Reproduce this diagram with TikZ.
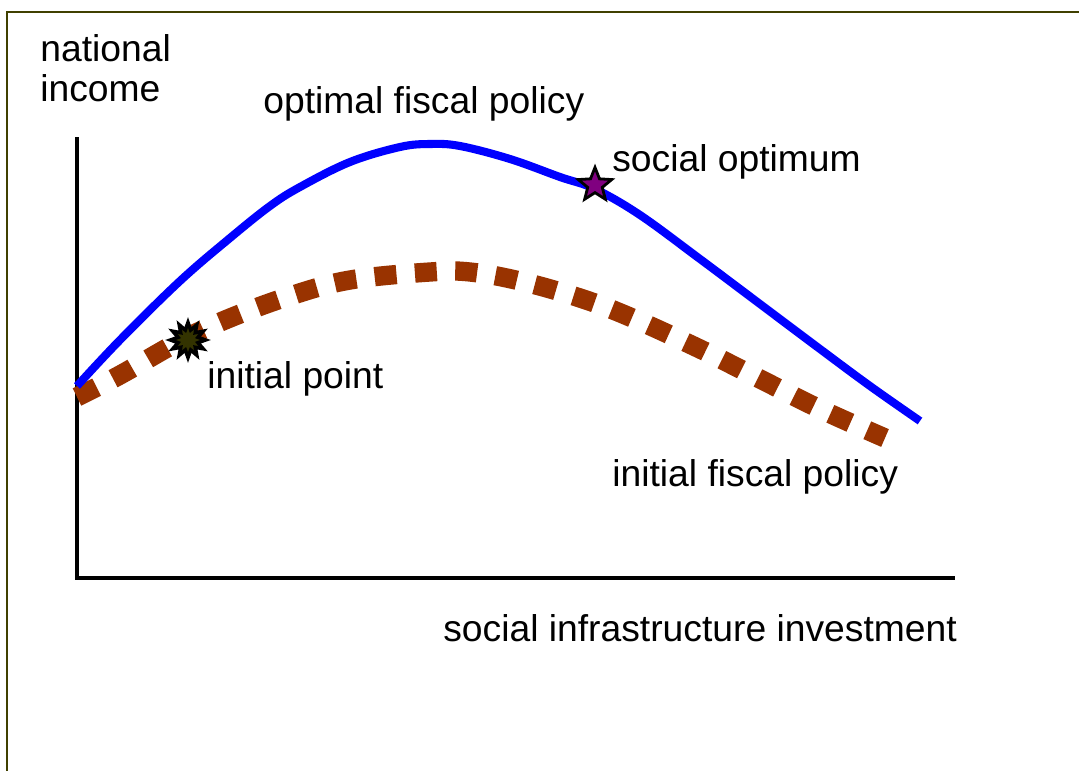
\documentclass[tikz,border=0pt]{standalone}
\usepackage{fontspec}
\setmainfont{Liberation Sans}
\usetikzlibrary{shapes.geometric}
\definecolor{framecol}{RGB}{64,64,0}
\definecolor{optblue}{RGB}{0,0,255}
\definecolor{initbrown}{RGB}{153,51,0}
\definecolor{optpurple}{RGB}{128,0,128}
\definecolor{initolive}{RGB}{51,51,0}

\begin{document}
\begin{tikzpicture}[x=0.02cm, y=-0.02cm,
  lbl/.style={anchor=base west, inner sep=0pt, font=\fontsize{21.2}{25}\selectfont},
  axis/.style={line width=2.3pt, black},
  optcurve/.style={line width=4.6pt, optblue},
  initcurve/.style={line width=11pt, initbrown, dash pattern=on 12.5pt off 10.5pt},
  optstar/.style={star, star points=5, star point ratio=2.3, minimum size=20pt, inner sep=0pt, draw=black, line width=1.6pt, fill=optpurple},
  initburst/.style={star, star points=12, star point ratio=1.7, minimum size=20pt, inner sep=0pt, draw=black, line width=2pt, fill=initolive}]
\useasboundingbox (0,0) rectangle (1079,771);
% frame
\draw[framecol, line width=1.7pt] (7,771) -- (7,12) -- (1079,12);

% axes
\coordinate (origin) at (77,578);
\coordinate (ytop) at (77,137);
\coordinate (xend) at (955,578);
\draw[axis] (ytop) -- (origin) -- (xend);
\node[lbl] (ylabel) at (40,61) {national};
\node[lbl] (ylabel2) at (40,101) {income};
\node[lbl] (xlabel) at (443,641) {social infrastructure investment};

% initial fiscal policy
\draw[initcurve] plot[smooth, tension=0.6] coordinates {(77,397) (120,375) (180,341) (230,318) (290,296) (350,280) (430,272) (470,272) (520,281) (580,298) (630,317) (700,349) (760,379) (820,409) (885,438)};
% optimal fiscal policy
\draw[optcurve] plot[smooth, tension=0.6] coordinates {(77,386) (120,340) (180,281) (230,238) (270,206) (300,187) (350,162) (400,147) (430,144) (460,146) (510,159) (560,177) (595,189) (640,215) (700,259) (760,304) (820,349) (870,386) (920,421)};

\node[initburst] (initpt) at (188,340) {};
\node[optstar] (optpt) at (595,185) {};

\node[lbl] (optlabel) at (263,113) {optimal fiscal policy};
\node[lbl] (soclabel) at (612,171) {social optimum};
\node[lbl] (initptlabel) at (207,388) {initial point};
\node[lbl] (initlabel) at (612,486) {initial fiscal policy};
\end{tikzpicture}
\end{document}
